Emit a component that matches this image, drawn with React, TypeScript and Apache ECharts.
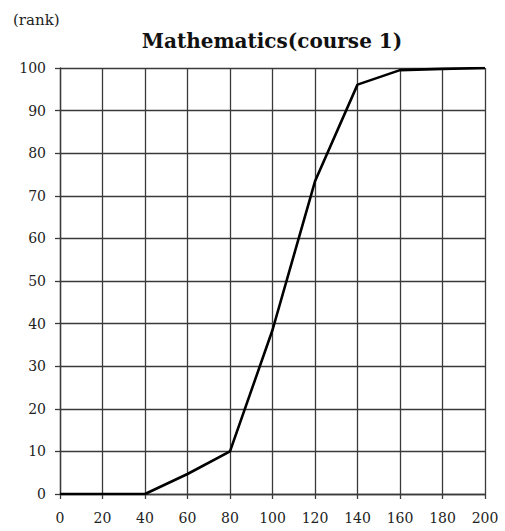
import React, { useEffect, useRef } from "react";
import * as echarts from "echarts";

const scores = [0, 20, 40, 60, 80, 100, 120, 140, 160, 180, 200];
const ranks = [0, 0, 0, 4.7, 10, 38.5, 73.4, 96.1, 99.5, 99.8, 100];
const titleText = "Mathematics(course 1)";
const yName = "(rank)";

export default function App() {
  const ref = useRef<HTMLDivElement>(null);
  useEffect(() => {
    document.body.style.margin = "0";
    const chart = echarts.init(ref.current!, null, { renderer: "svg" });
    const font = "DejaVu Serif";
    const lineColor = "#3a3a3a";
    chart.setOption({
      animation: false,
      backgroundColor: "#fff",
      graphic: [
        {
          type: "text",
          x: 272,
          y: 41,
          style: {
            text: titleText,
            font: `bold 20px '${font}'`,
            fill: "#111",
            textAlign: "center",
            textVerticalAlign: "middle",
          },
        },
        {
          type: "text",
          x: 13,
          y: 20,
          style: {
            text: yName,
            font: `15px '${font}'`,
            fill: "#222",
            textAlign: "left",
            textVerticalAlign: "middle",
          },
        },
      ],
      grid: { left: 60, right: 20, top: 68, bottom: 37, containLabel: false },
      xAxis: {
        type: "value",
        min: 0,
        max: 200,
        interval: 20,
        axisLine: { show: true, lineStyle: { color: lineColor, width: 1.3 } },
        axisTick: { show: true, length: 5, lineStyle: { color: lineColor, width: 1.3 } },
        splitLine: { show: true, lineStyle: { color: lineColor, width: 1.3 } },
        axisLabel: { fontFamily: font, fontSize: 14, color: "#222", margin: 17 },
      },
      yAxis: {
        type: "value",
        min: 0,
        max: 100,
        interval: 10,
        axisLine: { show: true, lineStyle: { color: lineColor, width: 1.3 } },
        axisTick: { show: true, length: 5, lineStyle: { color: lineColor, width: 1.3 } },
        splitLine: { show: true, lineStyle: { color: lineColor, width: 1.3 } },
        axisLabel: { fontFamily: font, fontSize: 14, color: "#222", margin: 14 },
      },
      series: [
        {
          type: "line",
          data: scores.map((s, i) => [s, ranks[i]]),
          symbol: "none",
          lineStyle: { color: "#000", width: 2.6 },
          z: 5,
        },
      ],
    });
    return () => chart.dispose();
  }, []);
  return <div ref={ref} style={{ width: 505, height: 531 }} />;
}
